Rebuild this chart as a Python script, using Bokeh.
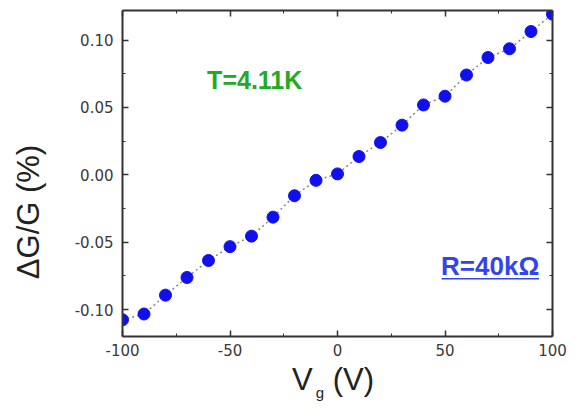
from bokeh.plotting import figure
from bokeh.models import LinearAxis, Range1d, Label, FixedTicker, CustomJSTickFormatter, Div
from bokeh.layouts import column, row
from bokeh.embed import file_html
from bokeh.resources import INLINE

vg = [-100, -90, -80, -70, -60, -50, -40, -30, -20, -10, 0, 10, 20, 30, 40, 50, 60, 70, 80, 90, 100]
dgg = [-0.1076, -0.1033, -0.0893, -0.0762, -0.0636, -0.0533, -0.0455, -0.0314, -0.0155, -0.0041,
       0.0007, 0.0136, 0.0240, 0.0369, 0.0519, 0.0584, 0.0741, 0.0871, 0.0936, 0.1064, 0.1193]
x_ticks = [-100, -50, 0, 50, 100]
x_minor = [-75, -25, 25, 75]
x_tick_labels = {-100: "-100", -50: "-50", 0: "0", 50: "50", 100: "100"}
y_ticks = [-0.10, -0.05, 0.00, 0.05, 0.10]
y_minor = [-0.075, -0.025, 0.025, 0.075]
y_tick_labels = {-0.10: "-0.10", -0.05: "-0.05", 0.0: "0.00", 0.05: "0.05", 0.10: "0.10"}

LW = 60  # width of the y-label strip

p = figure(width=570 - LW, height=370, output_backend="svg", toolbar_location=None,
           x_range=Range1d(-100, 100), y_range=Range1d(-0.12, 0.122),
           min_border_left=122 - LW, min_border_right=18, min_border_top=10, min_border_bottom=34,
           margin=0)
p.grid.visible = False
p.outline_line_color = None
p.background_fill_color = "white"

AX = "#333333"
TICK_FONT = "DejaVu Sans"

def style(ax, labels=True):
    ax.axis_line_color = AX
    ax.axis_line_width = 2
    ax.major_tick_line_color = AX
    ax.minor_tick_line_color = AX
    ax.major_tick_in = 6
    ax.major_tick_out = 0
    ax.minor_tick_in = 3
    ax.minor_tick_out = 0
    ax.major_tick_line_width = 1.5
    ax.major_label_text_font = TICK_FONT
    ax.major_label_text_font_size = "15px"
    ax.major_label_text_color = "#3a3a3a"
    ax.major_label_standoff = 9 if labels else 0
    if not labels:
        ax.formatter = CustomJSTickFormatter(code="return ''")

p.xaxis.ticker = FixedTicker(ticks=x_ticks, minor_ticks=x_minor)
p.yaxis.ticker = FixedTicker(ticks=y_ticks, minor_ticks=y_minor)
p.xaxis.major_label_overrides = x_tick_labels
p.yaxis.major_label_overrides = y_tick_labels
style(p.xaxis[0]); style(p.yaxis[0])
p.xaxis.major_label_standoff = 7

top = LinearAxis(ticker=FixedTicker(ticks=x_ticks, minor_ticks=x_minor))
style(top, labels=False)
p.add_layout(top, "above")
right = LinearAxis(ticker=FixedTicker(ticks=y_ticks, minor_ticks=y_minor))
style(right, labels=False)
p.add_layout(right, "right")

p.line(vg, dgg, line_color="#888888", line_dash="2 3", line_width=1.5)
p.scatter(vg, dgg, size=12, fill_color="#1010ee", line_color="#1010ee")

p.add_layout(Label(x=-38.5, y=0.0707, text="T=4.11K", text_font="Liberation Sans",
                   text_font_size="25px", text_font_style="bold", text_color="#22aa22",
                   text_align="center", text_baseline="middle"))
p.add_layout(Label(x=71.0, y=-0.0678, text="R=40kΩ", text_font="Liberation Sans",
                   text_font_size="26px", text_font_style="bold", text_color="#3344ee",
                   text_align="center", text_baseline="middle"))
p.segment(x0=[48.4], y0=[-0.0771], x1=[93.7], y1=[-0.0771], line_color="#3344ee", line_width=1.5)

ylabel = Div(text='<div style="position:relative; width:0; height:0; left:29px; top:200px;">'
                  '<div style="position:absolute; left:0; top:0; transform:translate(-50%,-50%) rotate(-90deg); '
                  'white-space:nowrap; font-family:\'Liberation Sans\'; font-size:31px; line-height:36px; '
                  'color:#222222;">ΔG/G (%)</div></div>',
             width=LW, height=404, margin=0)

xlabel = Div(text='<span style="position:relative; left:%dpx; top:-6px; white-space:nowrap; '
                  'font-family:\'Liberation Sans\'; font-size:31px; line-height:31px; color:#222222;">'
                  'V<span style="font-size:15px; position:relative; top:8px; margin-left:3px;">g</span>'
                  ' (V)</span>' % (292 - LW),
             width=570 - LW, height=34, margin=0)

layout = row(ylabel, column(p, xlabel, spacing=0), spacing=0)
open("out.html", "w").write(file_html(layout, INLINE))
